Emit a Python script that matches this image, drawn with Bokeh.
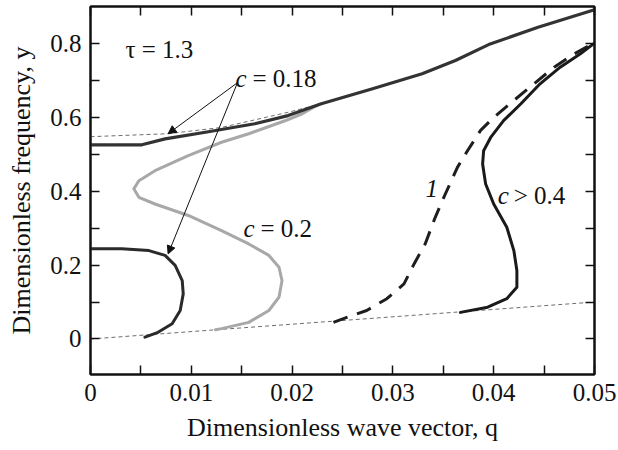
from bokeh.plotting import figure
from bokeh.models import Range1d, LinearAxis, FixedTicker, Label, Arrow, NormalHead
from bokeh.embed import file_html
from bokeh.resources import INLINE

# ---- tick definitions ----
x_ticks = [0, 0.01, 0.02, 0.03, 0.04, 0.05]
x_tick_labels = ["0", "0.01", "0.02", "0.03", "0.04", "0.05"]
x_minor = [0.005, 0.015, 0.025, 0.035, 0.045]
y_ticks = [0, 0.2, 0.4, 0.6, 0.8]
y_tick_labels = ["0", "0.2", "0.4", "0.6", "0.8"]
y_minor = [0.1, 0.3, 0.5, 0.7]

x_title = "Dimensionless wave vector, q"
y_title = "Dimensionless frequency, y"

# ---- curves ----
# upper branch, c = 0.18 (joins the high-frequency asymptote)
upper_q = [0, 0.0051, 0.0074, 0.0114, 0.0163, 0.0196, 0.0229, 0.0279, 0.0329, 0.0362, 0.0395, 0.0444, 0.0500]
upper_y = [0.525, 0.525, 0.541, 0.559, 0.582, 0.604, 0.636, 0.676, 0.717, 0.753, 0.796, 0.843, 0.890]

# upper asymptote (thin dashed)
asym_hi_q = [0, 0.0077, 0.0130, 0.0196, 0.0229]
asym_hi_y = [0.547, 0.555, 0.572, 0.613, 0.636]

# lower asymptote (thin dashed)
asym_lo_q = [0, 0.05]
asym_lo_y = [0, 0.1]

# c = 0.2 (light grey)
c02_q = [0.0225, 0.0210, 0.0193, 0.0157, 0.0130, 0.0097, 0.0064, 0.0048, 0.0043, 0.0048, 0.0064, 0.0097,
         0.0130, 0.0157, 0.0177, 0.0187, 0.0190, 0.0187, 0.0177, 0.0157, 0.0130, 0.0124]
c02_y = [0.632, 0.609, 0.590, 0.555, 0.532, 0.496, 0.455, 0.428, 0.406, 0.383, 0.365, 0.334,
         0.293, 0.257, 0.226, 0.194, 0.158, 0.113, 0.077, 0.045, 0.028, 0.025]

# c = 0.18 lower branch
c018_q = [0, 0.0031, 0.0058, 0.0074, 0.0084, 0.0091, 0.0092, 0.0089, 0.0081, 0.0067, 0.0054]
c018_y = [0.244, 0.244, 0.239, 0.226, 0.199, 0.158, 0.122, 0.077, 0.041, 0.018, 0.005]

# curve 1 (dashed)
curve1_q = [0.0241, 0.0255, 0.0274, 0.0294, 0.0311, 0.0321, 0.0332, 0.0342, 0.0352, 0.0364, 0.0374, 0.0387,
            0.0400, 0.0420, 0.0440, 0.0460, 0.0480, 0.0498]
curve1_y = [0.045, 0.059, 0.077, 0.109, 0.149, 0.203, 0.257, 0.329, 0.392, 0.464, 0.509, 0.564,
            0.599, 0.645, 0.690, 0.735, 0.771, 0.798]

# c > 0.4
c04_q = [0.0367, 0.0394, 0.0413, 0.0423, 0.0423, 0.0420, 0.0413, 0.0400, 0.0392, 0.0389, 0.0390, 0.0397,
         0.0410, 0.0427, 0.0446, 0.0466, 0.0486, 0.0499]
c04_y = [0.072, 0.086, 0.109, 0.140, 0.185, 0.239, 0.302, 0.365, 0.419, 0.473, 0.509, 0.545,
         0.591, 0.636, 0.690, 0.735, 0.771, 0.798]

# arrows from the "c = 0.18" label
arrow_start_q = 0.01458
arrow_start_y = 0.693
arrow_ends_q = [0.0077, 0.0077]
arrow_ends_y = [0.555, 0.230]

SERIF = "'Liberation Serif', 'Times New Roman', Times, serif"
INK = "#111111"

p = figure(width=618, height=450, output_backend="svg", toolbar_location=None,
           x_range=Range1d(0, 0.05), y_range=Range1d(-0.096, 0.899),
           min_border_left=90, min_border_right=24, min_border_top=6, min_border_bottom=76,
           background_fill_color="white", border_fill_color="white")
p.xgrid.visible = False
p.ygrid.visible = False
p.outline_line_color = INK
p.outline_line_width = 2

bottom_ax = p.below[0]
left_ax = p.left[0]


def style_axis(ax, ticks, minor, labels, show_labels):
    ax.ticker = FixedTicker(ticks=ticks, minor_ticks=minor)
    ax.axis_line_color = INK
    ax.axis_line_width = 2
    ax.major_tick_in = 9
    ax.major_tick_out = 0
    ax.minor_tick_in = 9
    ax.minor_tick_out = 0
    ax.major_tick_line_color = INK
    ax.minor_tick_line_color = INK
    ax.major_tick_line_width = 1.5
    ax.minor_tick_line_width = 1.5
    if show_labels:
        ax.major_label_overrides = {t: l for t, l in zip(ticks, labels)}
        ax.major_label_text_font = SERIF
        ax.major_label_text_font_size = "25px"
        ax.major_label_text_color = INK
        ax.major_label_standoff = 9
    else:
        ax.major_label_overrides = {t: "" for t in ticks}
        ax.major_label_standoff = 0
        ax.major_label_text_font_size = "1px"


style_axis(bottom_ax, x_ticks, x_minor, x_tick_labels, True)
style_axis(left_ax, y_ticks, y_minor, y_tick_labels, True)
top_ax = LinearAxis()
style_axis(top_ax, x_ticks, x_minor, x_tick_labels, False)
p.add_layout(top_ax, "above")
right_ax = LinearAxis()
style_axis(right_ax, y_ticks, y_minor, y_tick_labels, False)
p.add_layout(right_ax, "right")

for ax, title, standoff in ((bottom_ax, x_title, 9), (left_ax, y_title, 11)):
    ax.axis_label = title
    ax.axis_label_text_font = SERIF
    ax.axis_label_text_font_size = "26px"
    ax.axis_label_text_font_style = "normal"
    ax.axis_label_text_color = INK
    ax.axis_label_standoff = standoff

# thin dashed asymptotes
p.line(asym_hi_q, asym_hi_y, line_color="#6e6e6e", line_width=1, line_dash="4 3")
p.line(asym_lo_q, asym_lo_y, line_color="#6e6e6e", line_width=1, line_dash="4 3")

# curves
p.line(c02_q, c02_y, line_color="#a8a8a8", line_width=3, line_join="round", line_cap="round")
p.line(upper_q, upper_y, line_color="#333333", line_width=3.2, line_join="round", line_cap="round")
p.line(c018_q, c018_y, line_color="#2a2a2a", line_width=3, line_join="round", line_cap="round")
p.line(curve1_q, curve1_y, line_color="#1e1e1e", line_width=3, line_dash="15 10", line_join="round")
p.line(c04_q, c04_y, line_color="#1a1a1a", line_width=3, line_join="round", line_cap="round")

# arrows
for xe, ye in zip(arrow_ends_q, arrow_ends_y):
    p.add_layout(Arrow(x_start=arrow_start_q, y_start=arrow_start_y, x_end=xe, y_end=ye,
                       line_color=INK, line_width=1,
                       end=NormalHead(size=8, fill_color=INK, line_color=INK)))


def txt(x, y, s, italic=False, dx=0, size="25px"):
    p.add_layout(Label(x=x, y=y, text=s, x_offset=dx, text_font=SERIF, text_font_size=size,
                       text_font_style="italic" if italic else "normal", text_color=INK,
                       text_baseline="alphabetic", text_align="left"))


# annotations
txt(0.00347, 0.784, "τ = 1.3")
txt(0.01438, 0.703, "c", italic=True)
txt(0.01438, 0.703, "= 0.18", dx=17)
txt(0.01518, 0.298, "c", italic=True)
txt(0.01518, 0.298, "= 0.2", dx=17)
txt(0.03323, 0.406, "1", italic=True)
txt(0.04040, 0.388, "c", italic=True)
txt(0.04040, 0.388, "> 0.4", dx=16)

open("out.html", "w").write(file_html(p, INLINE))
